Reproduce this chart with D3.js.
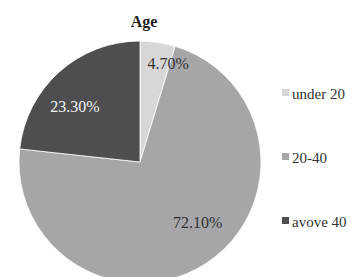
<!DOCTYPE html>
<html><head><meta charset="utf-8">
<script src="https://cdn.jsdelivr.net/npm/d3@7"></script>
<style>body{margin:0;background:#fff}svg{display:block}</style>
</head><body><svg id="c" width="356" height="277"></svg>
<script>
const categories = ["under 20", "20-40", "avove 40"];
const values = [4.7, 72.1, 23.3];
const labels = ["4.70%", "72.10%", "23.30%"];
const colors = ["#d7d7d7", "#a6a6a8", "#4e4e50"];
const labelColors = ["#333", "#333", "#f2f2f2"];
const labelNudge = [[15, -10], [8, -15], [-5, 11]];
const FONT = "'Liberation Serif', 'Tinos', 'Times New Roman', 'Nimbus Roman', 'DejaVu Serif', serif";

const svg = d3.select("#c");
const cx = 140, cy = 162, R = 121;
const g = svg.append("g").attr("transform", `translate(${cx},${cy})`);
const pie = d3.pie().sort(null).value(d => d)(values);
const arc = d3.arc().innerRadius(0).outerRadius(R);
const labelArc = d3.arc().innerRadius(90).outerRadius(90);

g.selectAll("path").data(pie).join("path")
  .attr("d", arc).attr("fill", (d, i) => colors[i])
  .attr("stroke", "#fff").attr("stroke-width", 0.8);

g.selectAll("text").data(pie).join("text")
  .attr("transform", (d, i) => {
    const c = labelArc.centroid(d);
    return `translate(${c[0] + labelNudge[i][0]},${c[1] + labelNudge[i][1]})`;
  })
  .attr("text-anchor", "middle").attr("dy", "0.35em")
  .style("font-family", FONT).attr("font-size", 16)
  .attr("fill", (d, i) => labelColors[i])
  .text((d, i) => labels[i]);

svg.append("text").attr("x", 144).attr("y", 27).attr("text-anchor", "middle")
  .style("font-family", FONT).attr("font-weight", "bold")
  .attr("font-size", 16).attr("fill", "#222").text("Age");

const ly = d3.scalePoint().domain(categories).range([99, 227]);
const lg = svg.append("g").selectAll("g").data(categories).join("g")
  .attr("transform", d => `translate(282,${ly(d)})`);
lg.append("rect").attr("x", 0).attr("y", -10).attr("width", 7).attr("height", 7)
  .attr("fill", (d, i) => colors[i]);
lg.append("text").attr("x", 10).attr("y", 0)
  .style("font-family", FONT).attr("font-size", 15)
  .attr("fill", "#333").text(d => d);
</script></body></html>
